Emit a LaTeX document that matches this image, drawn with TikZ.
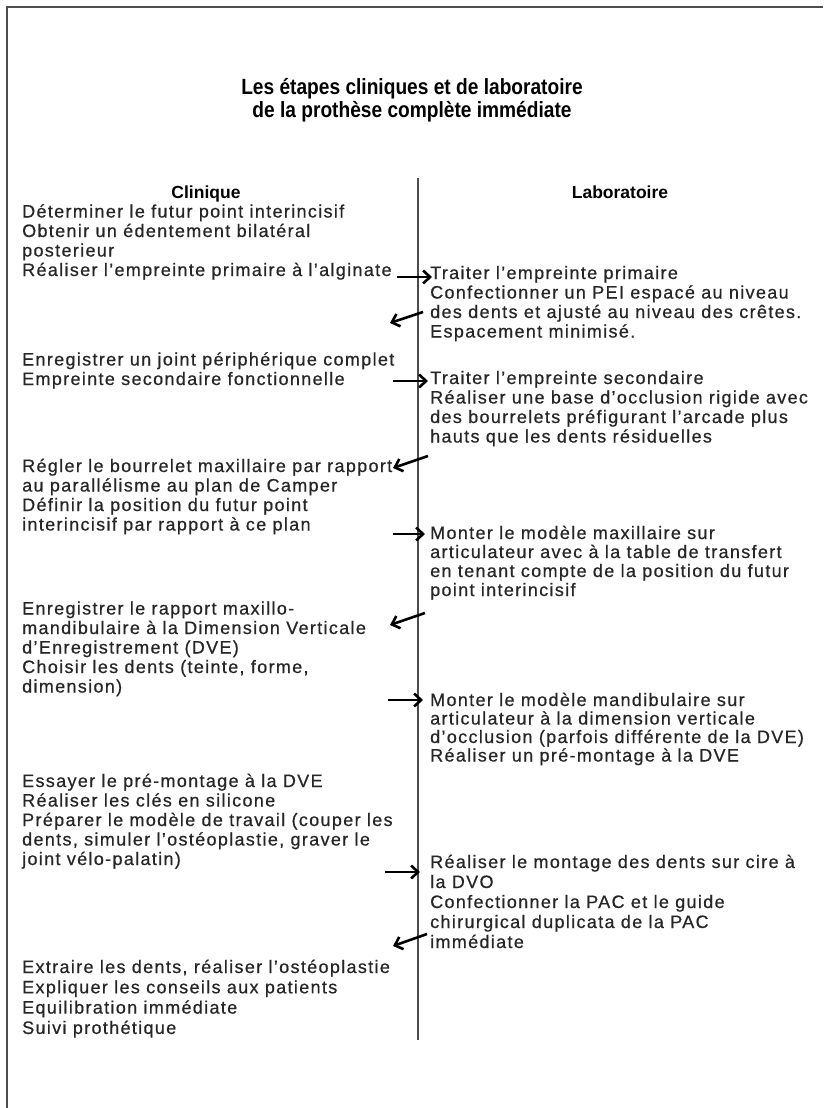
\documentclass[tikz,border=0pt]{standalone}
\usepackage{fontspec}
\setmainfont{Liberation Sans}
\newfontfamily\bodyfont[LetterSpace=7.4,FakeBold=0.6]{Liberation Sans}
\newfontfamily\headfont{Liberation Sans}
\newfontfamily\titlefont[FakeStretch=0.87]{Liberation Sans}
\usetikzlibrary{arrows.meta}
\newcommand\blocklines[2]{\vtop{\baselineskip=#1\lineskiplimit=-\maxdimen\lineskip=0pt\halign{##\hfil\cr#2\crcr}}}
\definecolor{txtgray}{HTML}{262626}
\definecolor{framegray}{HTML}{4D4D4D}
\tikzset{
  txt/.style={inner sep=0pt, anchor=base west, text=txtgray,
    font=\bodyfont\fontsize{18}{19.5}\selectfont},
  hdr/.style={inner sep=0pt, anchor=base, text=black,
    font=\headfont\bfseries\fontsize{17.5}{19.5}\selectfont},
  ttl/.style={inner sep=0pt, anchor=base, text=black, align=center,
    font=\titlefont\bfseries\fontsize{22}{22}\selectfont},
  arr/.style={line width=2.6pt, draw=black,
    -{Straight Barb[length=7pt,width=13pt]}},
  frameline/.style={line width=2pt, draw=framegray},
  divider/.style={line width=1.4pt, draw=framegray}
}
\begin{document}
\begin{tikzpicture}[x=1pt,y=-1pt]
\useasboundingbox (0,0) rectangle (823,1108);
\draw[frameline] (7,1108) -- (7,7) -- (823,7);

\node[ttl] (title) at (412,117) {Les étapes cliniques et de laboratoire\\de la prothèse complète immédiate};

\coordinate (divtop) at (418,178);
\coordinate (divbot) at (418,1040);
\draw[divider] (divtop) -- (divbot);

\node[hdr] (hclin) at (206,198) {Clinique};
\node[hdr] (hlab) at (620,198) {Laboratoire};

% left column
\node[txt] (L1) at (22,217.5) {\blocklines{19.5pt}{Déterminer le futur point interincisif\cr Obtenir un édentement bilatéral\cr posterieur\cr Réaliser l’empreinte primaire à l’alginate}};
\node[txt] (L2) at (22,365.5) {\blocklines{19.5pt}{Enregistrer un joint périphérique complet\cr Empreinte secondaire fonctionnelle}};
\node[txt] (L3) at (22,472) {\blocklines{19.5pt}{Régler le bourrelet maxillaire par rapport\cr au parallélisme au plan de Camper\cr Définir la position du futur point\cr interincisif par rapport à ce plan}};
\node[txt] (L4) at (22,614.5) {\blocklines{19.5pt}{Enregistrer le rapport maxillo-\cr mandibulaire à la Dimension Verticale\cr d’Enregistrement (DVE)\cr Choisir les dents (teinte, forme,\cr dimension)}};
\node[txt] (L5) at (22,787) {\blocklines{19.5pt}{Essayer le pré-montage à la DVE\cr Réaliser les clés en silicone\cr Préparer le modèle de travail (couper les\cr dents, simuler l’ostéoplastie, graver le\cr joint vélo-palatin)}};
\node[txt] (L6) at (22,973) {\blocklines{20.3pt}{Extraire les dents, réaliser l’ostéoplastie\cr Expliquer les conseils aux patients\cr Equilibration immédiate\cr Suivi prothétique}};

% right column
\node[txt] (R1) at (430,279) {\blocklines{19.5pt}{Traiter l’empreinte primaire\cr Confectionner un PEI espacé au niveau\cr des dents et ajusté au niveau des crêtes.\cr Espacement minimisé.}};
\node[txt] (R2) at (430,384) {\blocklines{19.5pt}{Traiter l’empreinte secondaire\cr Réaliser une base d’occlusion rigide avec\cr des bourrelets préfigurant l’arcade plus\cr hauts que les dents résiduelles}};
\node[txt] (R3) at (430,539) {\blocklines{19pt}{Monter le modèle maxillaire sur\cr articulateur avec à la table de transfert\cr en tenant compte de la position du futur\cr point interincisif}};
\node[txt] (R4) at (430,706) {\blocklines{18.5pt}{Monter le modèle mandibulaire sur\cr articulateur à la dimension verticale\cr d’occlusion (parfois différente de la DVE)\cr Réaliser un pré-montage à la DVE}};
\node[txt] (R5) at (430,868) {\blocklines{20pt}{Réaliser le montage des dents sur cire à\cr la DVO\cr Confectionner la PAC et le guide\cr chirurgical duplicata de la PAC\cr immédiate}};

% arrow end points
\coordinate (a1s) at (397,277); \coordinate (a1e) at (432,277);
\coordinate (a2s) at (423,312); \coordinate (a2e) at (390,323);
\coordinate (a3s) at (393,381); \coordinate (a3e) at (428,381);
\coordinate (a4s) at (428,456); \coordinate (a4e) at (393,468);
\coordinate (a5s) at (393,534); \coordinate (a5e) at (425,534);
\coordinate (a6s) at (425,613); \coordinate (a6e) at (390,625);
\coordinate (a7s) at (388,700); \coordinate (a7e) at (423,700);
\coordinate (a8s) at (385,872); \coordinate (a8e) at (420,872);
\coordinate (a9s) at (427,934); \coordinate (a9e) at (393,946);

\draw[arr] (a1s) -- (a1e);
\draw[arr] (a2s) -- (a2e);
\draw[arr] (a3s) -- (a3e);
\draw[arr] (a4s) -- (a4e);
\draw[arr] (a5s) -- (a5e);
\draw[arr] (a6s) -- (a6e);
\draw[arr] (a7s) -- (a7e);
\draw[arr] (a8s) -- (a8e);
\draw[arr] (a9s) -- (a9e);
\end{tikzpicture}
\end{document}
